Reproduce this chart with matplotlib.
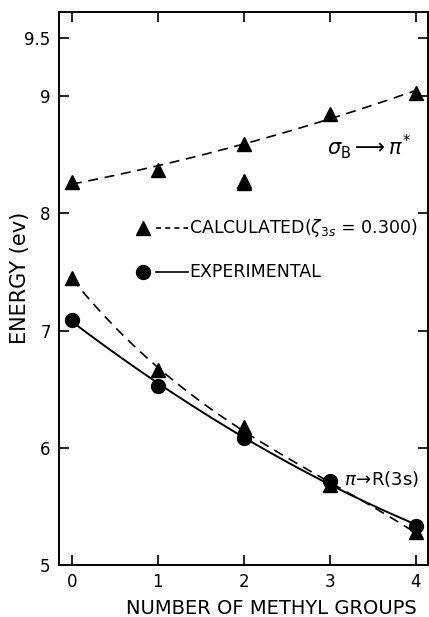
import numpy as np
import matplotlib
matplotlib.use("Agg")
import matplotlib.pyplot as plt

plt.rcParams['font.family'] = ['DejaVu Sans']

# data
n_methyl = [0, 1, 2, 3, 4]
sigma_calc_x = [0, 1, 2, 2, 2, 3, 4]
sigma_calc = [8.27, 8.37, 8.59, 8.28, 8.26, 8.85, 9.03]
sigma_fit = [8.27, 8.37, 8.59, 8.85, 9.03]
ryd_calc = [7.45, 6.66, 6.18, 5.68, 5.28]
ryd_exp = [7.09, 6.53, 6.08, 5.72, 5.33]

y_ticks = [5, 6, 7, 8, 9, 9.5]
y_ticklabels = ["5", "6", "7", "8", "9", "9.5"]

fig = plt.figure(figsize=(4.29, 6.17), dpi=100)
ax = fig.add_axes([0.1375, 0.0843, 0.86, 0.8963])

xs = np.linspace(0, 4, 200)

# smooth curves through the points
p_up = np.polyfit(n_methyl, sigma_fit, 2)
ax.plot(xs, np.polyval(p_up, xs), color='black', lw=1.2, dashes=(6, 4))
p_rc = np.polyfit(n_methyl, ryd_calc, 3)
ax.plot(xs, np.polyval(p_rc, xs), color='black', lw=1.2, dashes=(6, 4))
p_re = np.polyfit(n_methyl, ryd_exp, 2)
ax.plot(xs, np.polyval(p_re, xs), color='black', lw=1.4)

ax.plot(sigma_calc_x, sigma_calc, '^', color='black', ms=10, ls='none')
ax.plot(n_methyl, ryd_calc, '^', color='black', ms=10, ls='none')
ax.plot(n_methyl, ryd_exp, 'o', color='black', ms=10, ls='none')

# legend drawn inside the axes
ax.plot([0.83], [7.88], '^', color='black', ms=10)
ax.plot([0.98, 1.35], [7.88, 7.88], color='black', lw=1.2, dashes=(3, 2.5))
ax.text(1.36, 7.88, "CALCULATED($\\zeta_{3s}$ = 0.300)", fontsize=12.5,
        va='center', ha='left')
ax.plot([0.83], [7.50], 'o', color='black', ms=10)
ax.plot([0.98, 1.35], [7.50, 7.50], color='black', lw=1.2)
ax.text(1.37, 7.50, "EXPERIMENTAL", fontsize=12.5, va='center', ha='left')

ax.text(2.97, 8.57, "$\\sigma_{\\rm B} \\longrightarrow \\pi^{*}$", fontsize=15,
        va='center', ha='left')
ax.text(3.16, 5.73, "$\\pi\\!\\rightarrow\\!$R(3s)", fontsize=13,
        va='center', ha='left')

ax.set_xlim(-0.15, 4.14)
ax.set_ylim(5, 9.72)
ax.set_xticks(n_methyl)
ax.set_xticklabels([str(v) for v in n_methyl], fontsize=12)
ax.set_yticks(y_ticks)
ax.set_yticklabels(y_ticklabels, fontsize=12)
ax.tick_params(direction='in', length=7, width=1.2, top=True, right=True,
               labeltop=False, labelright=False, pad=6)
for s in ax.spines.values():
    s.set_linewidth(1.4)

ax.set_xlabel("NUMBER OF METHYL GROUPS", fontsize=14, va='center')
ax.xaxis.set_label_coords(0.575, -0.078)
ax.set_ylabel("ENERGY (ev)", fontsize=15, va='center')
ax.yaxis.set_label_coords(-0.105, 0.52)

fig.savefig("out.png", dpi=100)
